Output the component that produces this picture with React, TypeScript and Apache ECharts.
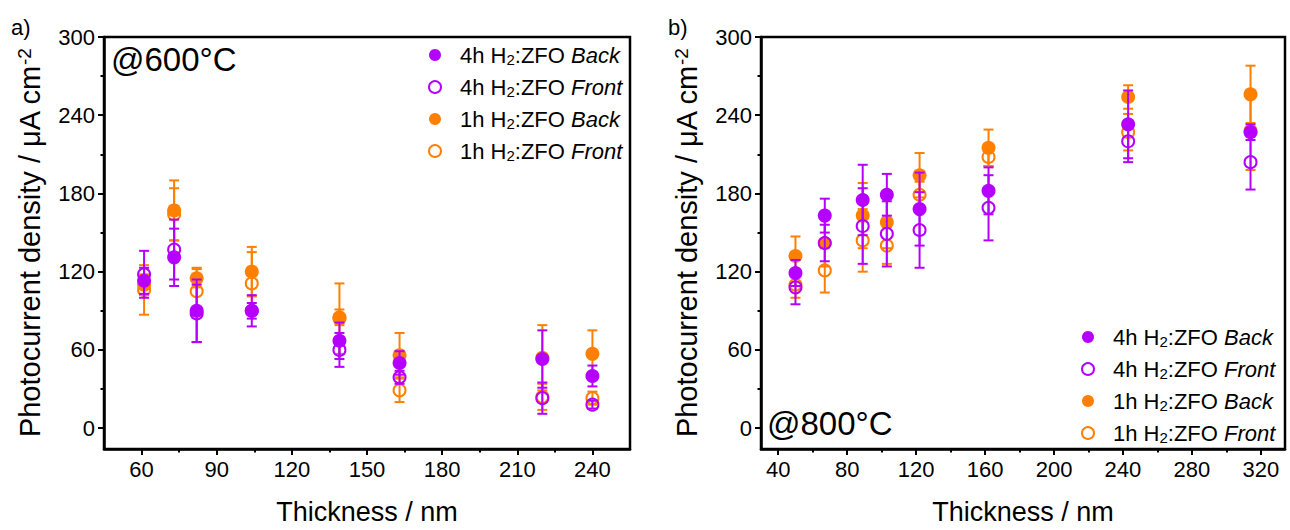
import React, { useEffect, useRef } from "react";
import * as echarts from "echarts";

// ---------- data ----------
const seriesNames = ["4h H2:ZFO Back", "4h H2:ZFO Front", "1h H2:ZFO Back", "1h H2:ZFO Front"];

// Panel a) @600°C
const thicknessA = [61, 73, 82, 104, 139, 163, 220, 240];
const a4hBack = [113, 131, 90, 90, 67, 50, 53, 40];
const a4hBackErr = [10, 22, 24, 12, 14, 9, 22, 8];
const a4hFront = [118, 137, 88, 90, 60, 39, 23, 18];
const a4hFrontErr = [18, 23, 22, 6, 13, 5, 12, 3];
const a1hBack = [110, 167, 115, 120, 84, 56, 54, 57];
const a1hBackErr = [8, 23, 7, 19, 27, 17, 25, 18];
const a1hFront = [106, 164, 105, 111, 85, 29, 24, 23];
const a1hFrontErr = [19, 20, 18, 24, 6, 9, 10, 5];

// Panel b) @800°C
const thicknessB = [50, 67, 89, 103, 122, 162, 243, 314];
const b4hBack = [119, 163, 175, 179, 168, 182, 233, 227];
const b4hBackErr = [10, 13, 27, 16, 28, 18, 26, 6];
const b4hFront = [108, 142, 155, 149, 152, 169, 220, 204];
const b4hFrontErr = [13, 14, 29, 25, 29, 25, 16, 21];
const b1hBack = [132, 142, 163, 158, 194, 215, 254, 256];
const b1hBackErr = [15, 18, 25, 20, 17, 14, 9, 22];
const b1hFront = [110, 121, 144, 140, 179, 208, 227, 228];
const b1hFrontErr = [10, 17, 24, 14, 10, 7, 14, 30];

// ticks
const yTicks = [0, 60, 120, 180, 240, 300];
const yMinorTicks = [30, 90, 150, 210, 270];
const xTicksA = [60, 90, 120, 150, 180, 210, 240];
const xMinorTicksA = [75, 105, 135, 165, 195, 225];
const xTicksB = [40, 80, 120, 160, 200, 240, 280, 320];
const xMinorTicksB = [60, 100, 140, 180, 220, 260, 300];

const PURPLE = "#B600FF";
const ORANGE = "#FF8000";
const FONT = "Liberation Sans, Arial, sans-serif";

export default function App() {
  const ref = useRef<HTMLDivElement>(null);

  useEffect(() => {
    if (!ref.current) return;
    const chart = echarts.init(ref.current, undefined, { renderer: "svg" });

    const errRender = (color: string) => (params: any, api: any) => {
      const x = api.value(0);
      const lo = api.value(1);
      const hi = api.value(2);
      const top = api.coord([x, hi]);
      const bot = api.coord([x, lo]);
      const w = 5;
      const style = { stroke: color, lineWidth: 2 };
      return {
        type: "group",
        children: [
          { type: "line", shape: { x1: top[0], y1: top[1], x2: bot[0], y2: bot[1] }, style },
          { type: "line", shape: { x1: top[0] - w, y1: top[1], x2: top[0] + w, y2: top[1] }, style },
          { type: "line", shape: { x1: bot[0] - w, y1: bot[1], x2: bot[0] + w, y2: bot[1] }, style },
        ],
      };
    };

    const errData = (xs: number[], v: number[], e: number[]) =>
      xs.map((x, i) => [x, v[i] - e[i], v[i] + e[i]]);
    const ptData = (xs: number[], v: number[]) => xs.map((x, i) => [x, v[i]]);

    const makeSeries = (grid: number, xs: number[], vals: number[], errs: number[], name: string, color: string, open: boolean, z: number) => [
      {
        type: "custom",
        name: "err-" + grid + "-" + name,
        xAxisIndex: grid * 2,
        yAxisIndex: grid * 2,
        renderItem: errRender(color),
        encode: { x: 0, y: [1, 2] },
        data: errData(xs, vals, errs),
        z,
        silent: true,
      },
      {
        type: "scatter",
        name,
        xAxisIndex: grid * 2,
        yAxisIndex: grid * 2,
        symbol: "circle",
        symbolSize: open ? 12 : 14,
        itemStyle: open
          ? { color: "rgba(255,255,255,0)", borderColor: color, borderWidth: 2, opacity: 1 }
          : { color: color, opacity: 1 },
        data: ptData(xs, vals),
        z,
      },
    ];

    const axisLineStyle = { color: "#000", width: 2.5 };
    const tickLabel = { fontSize: 22, color: "#000", fontFamily: FONT, margin: 9 };
    const nameStyle = (size: number) => ({
      fontSize: size,
      color: "#000",
      fontFamily: FONT,
      rich: {
        sup: { fontSize: Math.round(size * 0.65), color: "#000", fontFamily: FONT, verticalAlign: "top" },
      },
    });

    const mainX = (grid: number, min: number, max: number, ticks: number[]) => ({
      gridIndex: grid,
      type: "value",
      position: "bottom",
      min,
      max,
      axisLine: { show: true, onZero: false, lineStyle: axisLineStyle },
      axisTick: { show: true, inside: false, length: 6, lineStyle: { color: "#000", width: 2 }, customValues: ticks },
      axisLabel: { ...tickLabel, customValues: ticks },
      splitLine: { show: false },
      name: "Thickness / nm",
      nameLocation: "middle",
      nameGap: 49,
      nameTextStyle: nameStyle(27),
    });
    const minorX = (grid: number, min: number, max: number, ticks: number[]) => ({
      gridIndex: grid,
      type: "value",
      position: "bottom",
      min,
      max,
      axisLine: { show: false, onZero: false },
      axisTick: { show: true, inside: false, length: 3.5, lineStyle: { color: "#000", width: 2 }, customValues: ticks },
      axisLabel: { show: false },
      splitLine: { show: false },
    });
    const mainY = (grid: number) => ({
      gridIndex: grid,
      type: "value",
      position: "left",
      min: -16,
      max: 300,
      axisLine: { show: true, onZero: false, lineStyle: axisLineStyle },
      axisTick: { show: true, inside: false, length: 6, lineStyle: { color: "#000", width: 2 }, customValues: yTicks },
      axisLabel: { ...tickLabel, customValues: yTicks },
      splitLine: { show: false },
      name: "Photocurrent density / μA cm{sup|-2}",
      nameLocation: "middle",
      nameGap: 60,
      nameTextStyle: nameStyle(29),
    });
    const minorY = (grid: number) => ({
      gridIndex: grid,
      type: "value",
      position: "left",
      min: -16,
      max: 300,
      axisLine: { show: false, onZero: false },
      axisTick: { show: true, inside: false, length: 3.5, lineStyle: { color: "#000", width: 2 }, customValues: yMinorTicks },
      axisLabel: { show: false },
      splitLine: { show: false },
    });

    const richLegend = {
      n: { fontSize: 22, color: "#000", fontFamily: FONT },
      sub: { fontSize: 15, color: "#000", fontFamily: FONT, verticalAlign: "bottom", padding: [9, 0, 0, 0] },
      it: { fontSize: 22, color: "#000", fontFamily: FONT, fontStyle: "italic" },
    };
    const legendFormatter = (name: string) => {
      const parts = name.split(" ");
      return "{n|" + parts[0] + " H}{sub|2}{n|:ZFO }{it|" + parts[2] + "}";
    };
    const legendBase = {
      data: seriesNames,
      orient: "vertical",
      itemWidth: 40,
      itemHeight: 12,
      itemGap: 9,
      formatter: legendFormatter,
      textStyle: { fontSize: 22, color: "#000", fontFamily: FONT, rich: richLegend },
      selectedMode: false,
    };

    const option: any = {
      animation: false,
      backgroundColor: "#fff",
      grid: [
        { left: 104, top: 37, width: 526, height: 418, show: true, borderColor: "#000", borderWidth: 2.5, backgroundColor: "transparent" },
        { left: 761, top: 37, width: 524, height: 418, show: true, borderColor: "#000", borderWidth: 2.5, backgroundColor: "transparent" },
      ],
      xAxis: [
        mainX(0, 45, 255, xTicksA),
        minorX(0, 45, 255, xMinorTicksA),
        mainX(1, 30, 334, xTicksB),
        minorX(1, 30, 334, xMinorTicksB),
      ],
      yAxis: [mainY(0), minorY(0), mainY(1), minorY(1)],
      legend: [
        { ...legendBase, left: 423, top: 39 },
        { ...legendBase, left: 1076, top: 321 },
      ],
      graphic: [
        { type: "text", x: 11, y: 27, style: { text: "a)", fontSize: 22, fill: "#000", fontFamily: FONT, verticalAlign: "middle" } },
        { type: "text", x: 668, y: 27, style: { text: "b)", fontSize: 22, fill: "#000", fontFamily: FONT, verticalAlign: "middle" } },
        { type: "text", x: 111, y: 59, style: { text: "@600°C", fontSize: 33, fill: "#000", fontFamily: FONT, verticalAlign: "middle" } },
        { type: "text", x: 767, y: 423, style: { text: "@800°C", fontSize: 33, fill: "#000", fontFamily: FONT, verticalAlign: "middle" } },
      ],
      series: [
        ...makeSeries(0, thicknessA, a1hFront, a1hFrontErr, seriesNames[3], ORANGE, true, 2),
        ...makeSeries(0, thicknessA, a1hBack, a1hBackErr, seriesNames[2], ORANGE, false, 2),
        ...makeSeries(0, thicknessA, a4hFront, a4hFrontErr, seriesNames[1], PURPLE, true, 3),
        ...makeSeries(0, thicknessA, a4hBack, a4hBackErr, seriesNames[0], PURPLE, false, 3),
        ...makeSeries(1, thicknessB, b1hFront, b1hFrontErr, seriesNames[3], ORANGE, true, 2),
        ...makeSeries(1, thicknessB, b1hBack, b1hBackErr, seriesNames[2], ORANGE, false, 2),
        ...makeSeries(1, thicknessB, b4hFront, b4hFrontErr, seriesNames[1], PURPLE, true, 3),
        ...makeSeries(1, thicknessB, b4hBack, b4hBackErr, seriesNames[0], PURPLE, false, 3),
      ],
    };

    chart.setOption(option);
    return () => chart.dispose();
  }, []);

  return (
    <div
      ref={ref}
      style={{ position: "fixed", left: 0, top: 0, width: 1290, height: 530, background: "#fff" }}
    />
  );
}
